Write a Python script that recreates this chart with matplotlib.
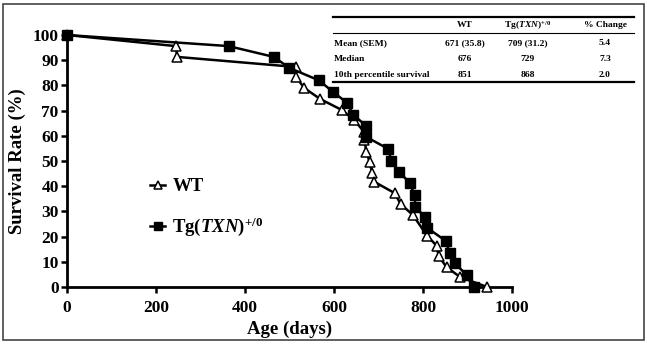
import matplotlib
matplotlib.use('Agg')
import matplotlib.pyplot as plt
from matplotlib.lines import Line2D
from matplotlib.patches import Rectangle

plt.rcParams['font.family'] = ['Liberation Serif', 'DejaVu Serif']
plt.rcParams['font.weight'] = 'bold'
plt.rcParams['mathtext.fontset'] = 'custom'
plt.rcParams['mathtext.rm'] = 'Liberation Serif:bold'
plt.rcParams['mathtext.it'] = 'Liberation Serif:italic:bold'
plt.rcParams['mathtext.bf'] = 'Liberation Serif:bold'

# survival data
wt_days = [0, 244, 248, 515, 515, 533, 569, 618, 645, 668, 668, 673, 680, 686, 691,
           736, 750, 777, 810, 831, 835, 853, 883, 944]
wt_surv = [100, 95.6, 91.3, 87.3, 83.3, 79.0, 74.6, 70.2, 66.3, 61.5, 58.3, 53.6, 49.6,
           45.2, 41.7, 37.3, 32.9, 28.6, 20.2, 16.3, 12.3, 7.9, 4.0, 0]
tg_days = [0, 363, 465, 499, 566, 598, 630, 643, 673, 673, 722, 729, 747, 770, 781,
           783, 804, 810, 851, 860, 871, 898, 914]
tg_surv = [100, 95.6, 91.3, 87.0, 82.0, 77.4, 73.0, 68.3, 63.9, 59.5, 54.8, 50.0, 45.6,
           41.3, 36.5, 31.7, 27.8, 23.4, 18.3, 13.5, 9.5, 4.8, 0]

tbl_rows = ['Mean (SEM)', 'Median', '10th percentile survival']
tbl_cols = ['WT', r'Tg($\it{TXN}$)$^{+/0}$', '% Change']
tbl_wt = ['671 (35.8)', '676', '851']
tbl_tg = ['709 (31.2)', '729', '868']
tbl_chg = ['5.4', '7.3', '2.0']

W, H = 648, 346
fig = plt.figure(figsize=(W / 100, H / 100), dpi=100)

def fx(px):
    return px / W

def fy(py):
    return 1 - py / H

ax = fig.add_axes([fx(67), fy(287), fx(512) - fx(67), fy(35) - fy(287)])

ax.plot(wt_days, wt_surv, color='black', lw=1.8, marker='^', ms=7,
        mfc='white', mec='black', mew=1.1, clip_on=False, zorder=3, label='WT')
ax.plot(tg_days, tg_surv, color='black', lw=1.8, marker='s', ms=6.5,
        mfc='black', mec='black', clip_on=False, zorder=4,
        label=r'Tg($\it{TXN}$)$^{+/0}$')

ax.set_xlim(0, 1000)
ax.set_ylim(0, 100)
ax.set_xticks(range(0, 1001, 200))
ax.set_yticks(range(0, 101, 10))
for s in ['top', 'right']:
    ax.spines[s].set_visible(False)
for s in ['left', 'bottom']:
    ax.spines[s].set_linewidth(2)
ax.tick_params(width=1.8, length=4, labelsize=12.5, pad=2)
ax.tick_params(axis='x', pad=5)
for lab in ax.get_xticklabels() + ax.get_yticklabels():
    lab.set_fontweight('bold')
ax.set_xlabel('Age (days)', fontsize=13.5, fontweight='bold', labelpad=4)
ax.set_ylabel('Survival Rate (%)', fontsize=13.5, fontweight='bold', labelpad=5)

ax_h = fy(35) - fy(287)
ax_w = fx(512) - fx(67)
leg = ax.legend(loc='upper left',
                bbox_to_anchor=((fx(150) - fx(67)) / ax_w, (fy(178) - fy(287)) / ax_h),
                bbox_transform=ax.transAxes, frameon=False, handlelength=0.8,
                labelspacing=1.1, handletextpad=0.4, borderpad=0, borderaxespad=0,
                markerscale=0.8, prop={'size': 13.5, 'weight': 'bold'})

# table in upper right
tx0, tx1 = 333, 634
for ly, lw in [(17, 1.6), (33, 0.8), (82, 1.6)]:
    fig.add_artist(Line2D([fx(tx0), fx(tx1)], [fy(ly), fy(ly)], color='black', lw=lw))
col_x = [465, 528, 605]
fs = 6.8
for cx, txt in zip(col_x, tbl_cols):
    fig.text(fx(cx), fy(25), txt, ha='center', va='center', fontsize=fs, fontweight='bold')
row_y = [43, 59, 75]
for i, ry in enumerate(row_y):
    fig.text(fx(tx0 + 1), fy(ry), tbl_rows[i], ha='left', va='center', fontsize=fs, fontweight='bold')
    fig.text(fx(col_x[0]), fy(ry), tbl_wt[i], ha='center', va='center', fontsize=fs, fontweight='bold')
    fig.text(fx(col_x[1]), fy(ry), tbl_tg[i], ha='center', va='center', fontsize=fs, fontweight='bold')
    fig.text(fx(col_x[2]), fy(ry), tbl_chg[i], ha='center', va='center', fontsize=fs, fontweight='bold')

# outer frame
fig.add_artist(Rectangle((fx(3), fy(340)), fx(644) - fx(3), fy(4) - fy(340),
                         fill=False, edgecolor='#444444', lw=1.2))

fig.savefig('out.png', dpi=100)
